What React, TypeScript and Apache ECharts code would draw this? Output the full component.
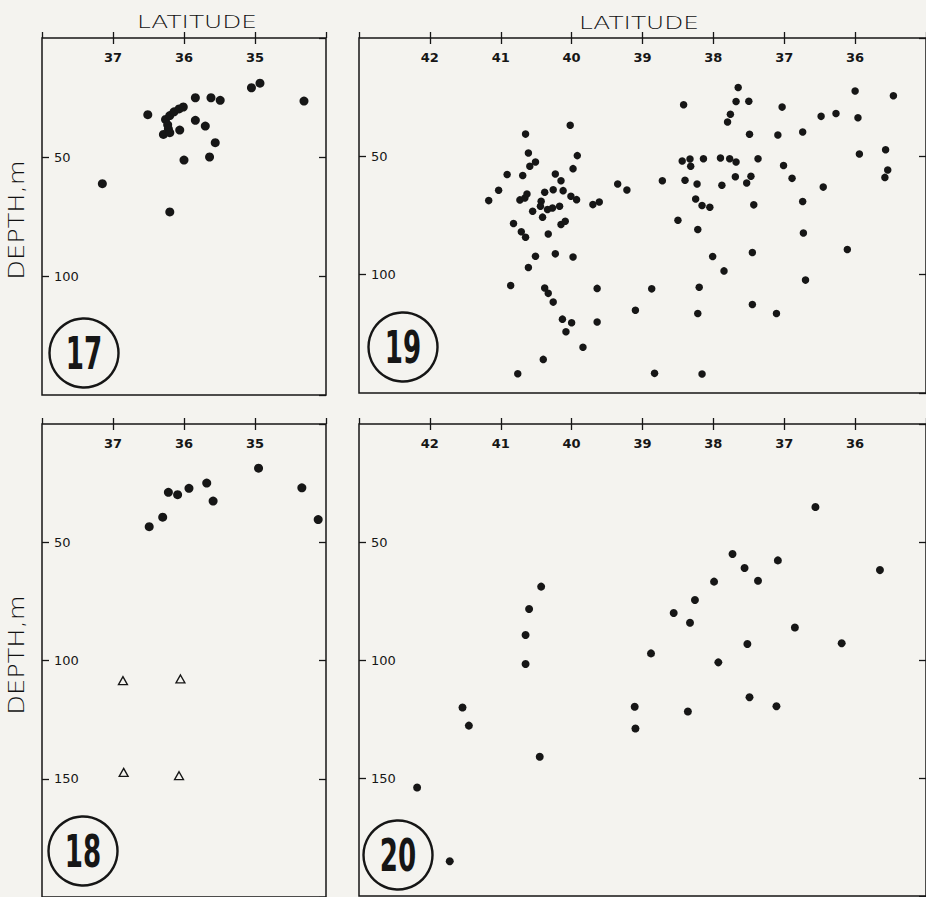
import React, { useEffect, useRef } from "react";
import * as echarts from "echarts";

// ---- data: [latitude, depth m] ----
const panel17Stations: number[][] = [
  [37.15, 61.2], [36.2, 73.1], [36.51, 32.2], [36.26, 34.2], [36.2, 32.6], [36.14, 31.0],
  [36.07, 29.8], [36.01, 29.0], [36.23, 36.5], [36.22, 38.2], [36.29, 40.5], [36.2, 39.8],
  [36.06, 38.7], [35.84, 25.1], [35.62, 25.1], [35.49, 26.2], [35.84, 34.6], [35.7, 37.0],
  [35.56, 44.0], [35.64, 50.0], [36.0, 51.3], [35.05, 20.9], [34.93, 19.0], [34.31, 26.5],
];

const panel18Dots: number[][] = [
  [36.49, 43.4], [36.3, 39.4], [36.22, 28.9], [36.09, 29.9], [35.93, 27.2],
  [35.68, 25.0], [35.59, 32.6], [34.95, 18.7], [34.34, 27.0], [34.11, 40.4],
];
const panel18Triangles: number[][] = [
  [36.86, 108.5], [36.05, 107.8], [36.85, 147.3], [36.07, 148.7],
];

const panel19Stations: number[][] = [
  [40.02, 36.9], [40.65, 40.6], [40.61, 48.6], [40.51, 52.4], [40.59, 54.2], [40.91, 57.7],
  [40.69, 58.1], [39.92, 49.7], [39.98, 55.2], [40.23, 57.5], [40.15, 60.3], [41.03, 64.3],
  [41.17, 68.7], [40.73, 68.4], [40.66, 67.6], [40.63, 65.9], [40.38, 65.2], [40.43, 69.0],
  [40.44, 71.1], [40.34, 72.5], [40.27, 71.8], [40.17, 71.1], [40.26, 64.1], [40.12, 64.5],
  [40.01, 66.9], [39.93, 68.3], [40.55, 73.2], [40.41, 75.7], [39.7, 70.4], [39.61, 69.3],
  [39.35, 61.7], [39.22, 64.2], [40.82, 78.4], [40.71, 81.9], [40.65, 84.2], [40.33, 82.8],
  [40.15, 78.8], [40.09, 77.4], [40.51, 92.2], [40.23, 91.2], [39.98, 92.5], [40.61, 97.0],
  [40.86, 104.6], [40.38, 105.6], [40.33, 107.9], [40.26, 111.6], [39.64, 105.8], [40.13, 118.8],
  [40.0, 120.3], [40.08, 124.1], [39.64, 120.0], [39.84, 130.7], [40.4, 135.8], [40.76, 141.9],
  [38.72, 60.3], [38.5, 77.0], [38.22, 80.9], [38.42, 28.2], [38.44, 52.0], [38.33, 51.1],
  [38.32, 54.2], [38.14, 51.0], [38.4, 60.1], [38.23, 61.7], [38.25, 68.0], [38.16, 70.8],
  [38.05, 71.5], [37.9, 50.7], [37.77, 51.0], [37.68, 52.4], [37.88, 62.2], [37.69, 58.6],
  [37.47, 58.4], [37.53, 61.3], [37.37, 51.0], [37.43, 70.5], [37.65, 20.9], [37.68, 26.8],
  [37.5, 26.7], [37.76, 32.2], [37.8, 35.5], [37.49, 40.7], [37.03, 29.2], [37.09, 41.0],
  [36.74, 39.7], [37.01, 53.9], [36.89, 59.3], [36.74, 69.1], [36.45, 63.0], [36.73, 82.4],
  [36.48, 33.1], [36.27, 31.9], [36.0, 22.4], [35.96, 33.7], [35.46, 24.4], [35.94, 49.0],
  [35.57, 47.2], [35.54, 55.8], [35.58, 58.9], [38.01, 92.3], [37.45, 90.6], [37.85, 98.4],
  [36.11, 89.4], [36.7, 102.3], [38.87, 106.0], [38.2, 105.3], [39.1, 115.0], [38.22, 116.4],
  [37.45, 112.6], [37.11, 116.4], [38.83, 141.7], [38.16, 142.0],
];

const panel20Stations: number[][] = [
  [36.56, 35.2], [37.73, 55.1], [37.56, 61.0], [37.37, 66.4], [37.09, 57.8], [35.65, 61.9],
  [37.99, 66.8], [38.26, 74.6], [38.56, 80.1], [38.33, 84.2], [36.85, 86.2], [37.52, 93.2],
  [36.19, 92.9], [37.93, 101.0], [38.88, 97.2], [40.43, 68.9], [40.6, 78.4], [40.65, 89.4],
  [40.65, 101.7], [37.49, 115.8], [37.11, 119.6], [38.36, 121.8], [39.11, 119.8], [39.1, 129.0],
  [41.54, 120.1], [41.45, 127.8], [40.45, 141.0], [42.18, 154.0], [41.72, 185.3],
];

const panelLabels = ["17", "19", "18", "20"];
const latRangeNarrow = [34, 38];
const latRangeWide = [35, 43];
const depthRangeTop = [0, 150];
const depthRangeBottom = [0, 200];

const BG = "#f4f3ef";
const INK = "#161616";
const LABEL_FONT = "DejaVu Sans";

function makeXAxes(gridIndex: number, range: number[]) {
  const base = {
    gridIndex,
    type: "value" as const,
    inverse: true,
    min: range[0],
    max: range[1],
    interval: 1,
    axisLine: { show: false },
    splitLine: { show: false },
    axisTick: { show: true, inside: true, length: 6, lineStyle: { color: INK, width: 1.3 } },
  };
  return [
    {
      ...base,
      position: "top",
      axisLabel: {
        show: true,
        inside: true,
        margin: 13,
        showMinLabel: false,
        showMaxLabel: false,
        color: INK,
        fontSize: 13,
        fontFamily: LABEL_FONT,
        fontWeight: "bold",
      },
    },
    { ...base, position: "bottom", axisLabel: { show: false } },
  ];
}

function makeYAxes(gridIndex: number, range: number[]) {
  const base = {
    gridIndex,
    type: "value" as const,
    inverse: true,
    min: range[0],
    max: range[1],
    interval: 50,
    axisLine: { show: false },
    splitLine: { show: false },
    axisTick: { show: true, inside: true, length: 7, lineStyle: { color: INK, width: 1.3 } },
  };
  return [
    {
      ...base,
      position: "left",
      axisLabel: {
        show: true,
        inside: true,
        margin: 12,
        showMinLabel: false,
        showMaxLabel: false,
        color: INK,
        fontSize: 13,
        fontFamily: LABEL_FONT,
      },
    },
    { ...base, position: "right", axisLabel: { show: false } },
  ];
}

function dotSeries(gridIndex: number, data: number[][], size: number) {
  return {
    type: "scatter",
    xAxisIndex: gridIndex * 2,
    yAxisIndex: gridIndex * 2,
    data,
    symbol: "circle",
    symbolSize: size,
    itemStyle: { color: INK, opacity: 1 },
    silent: true,
  };
}

const grids = [
  { left: 42, top: 38, width: 284, height: 357 },
  { left: 359, top: 38, width: 570, height: 355 },
  { left: 42, top: 424, width: 284, height: 476 },
  { left: 359, top: 424, width: 570, height: 472 },
];
const circleCenters = [
  [84, 353],
  [403, 347],
  [83, 851],
  [398, 855],
];

export default function App() {
  const ref = useRef<HTMLDivElement>(null);
  useEffect(() => {
    document.body.style.margin = "0";
    document.body.style.background = BG;
    if (!ref.current) return;
    const chart = echarts.init(ref.current, null, { renderer: "svg" });

    const graphic: any[] = [];
    const latTitlePos = [
      [197, 22],
      [639, 23],
    ];
    latTitlePos.forEach(([x, y]) => {
      graphic.push({
        type: "text",
        x,
        y,
        scaleX: 1.38,
        style: {
          text: "LATITUDE",
          fontSize: 18,
          fontFamily: "DejaVu Sans",
          fontWeight: 300,
          fill: "#111",
          align: "center",
          verticalAlign: "middle",
          textAlign: "center",
          textVerticalAlign: "middle",
        },
      });
    });
    const depthTitlePos = [
      [17, 220],
      [17, 655],
    ];
    depthTitlePos.forEach(([x, y]) => {
      graphic.push({
        type: "text",
        x,
        y,
        rotation: Math.PI / 2,
        scaleX: 1.22,
        style: {
          text: "DEPTH,m",
          fontSize: 21,
          fontFamily: "DejaVu Sans",
          fontWeight: 300,
          fill: "#111",
          align: "center",
          verticalAlign: "middle",
          textAlign: "center",
          textVerticalAlign: "middle",
        },
      });
    });
    circleCenters.forEach(([cx, cy], i) => {
      graphic.push({
        type: "circle",
        shape: { cx, cy, r: 34.5 },
        style: { fill: "none", stroke: INK, lineWidth: 2.4 },
      });
      graphic.push({
        type: "text",
        x: cx,
        y: cy + 1,
        scaleX: 0.66,
        style: {
          text: panelLabels[i],
          fontSize: 44,
          fontFamily: "Liberation Sans Narrow, DejaVu Sans Condensed, Liberation Sans",
          fontWeight: "bold",
          fill: INK,
          align: "center",
          verticalAlign: "middle",
          textAlign: "center",
          textVerticalAlign: "middle",
        },
      });
    });

    const option: any = {
      animation: false,
      backgroundColor: BG,
      grid: grids.map((g) => ({
        ...g,
        show: true,
        borderColor: INK,
        borderWidth: 1.5,
        backgroundColor: "transparent",
        containLabel: false,
      })),
      xAxis: [
        ...makeXAxes(0, latRangeNarrow),
        ...makeXAxes(1, latRangeWide),
        ...makeXAxes(2, latRangeNarrow),
        ...makeXAxes(3, latRangeWide),
      ],
      yAxis: [
        ...makeYAxes(0, depthRangeTop),
        ...makeYAxes(1, depthRangeTop),
        ...makeYAxes(2, depthRangeBottom),
        ...makeYAxes(3, depthRangeBottom),
      ],
      series: [
        dotSeries(0, panel17Stations, 9),
        dotSeries(1, panel19Stations, 7.5),
        dotSeries(2, panel18Dots, 9),
        {
          type: "scatter",
          xAxisIndex: 4,
          yAxisIndex: 4,
          data: panel18Triangles,
          symbol: "triangle",
          symbolSize: [9, 8],
          itemStyle: { color: BG, borderColor: INK, borderWidth: 1.3, opacity: 1 },
          silent: true,
        },
        dotSeries(3, panel20Stations, 8),
      ],
      graphic,
    };
    chart.setOption(option);
    return () => chart.dispose();
  }, []);

  return <div ref={ref} style={{ width: 926, height: 897, background: BG }} />;
}
